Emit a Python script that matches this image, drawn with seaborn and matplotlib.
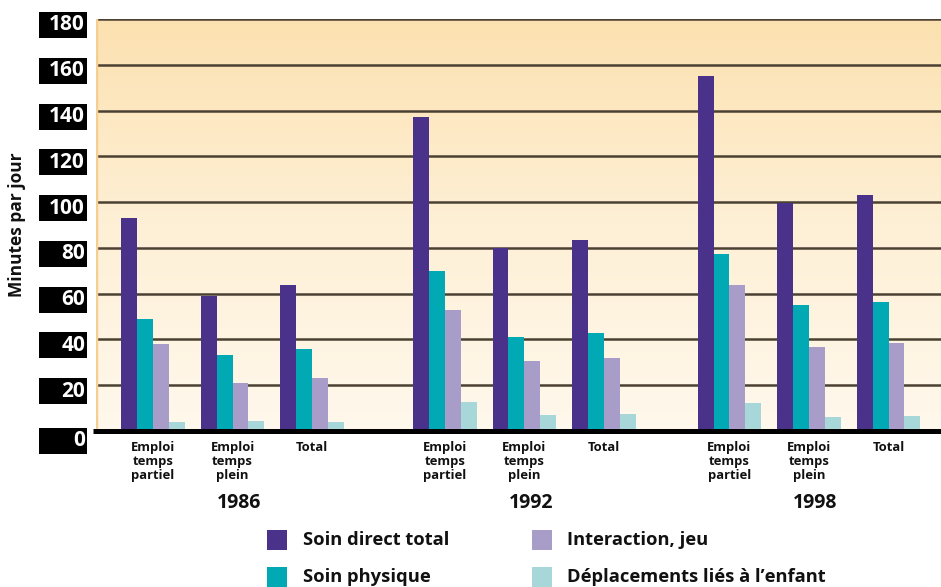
import numpy as np
import pandas as pd
import matplotlib
matplotlib.use("Agg")
import matplotlib.pyplot as plt
import seaborn as sns
from matplotlib.colors import LinearSegmentedColormap
from matplotlib.patches import Rectangle
import matplotlib.transforms as mtransforms

# ---------------- data ----------------
years = ["1986", "1992", "1998"]
categories = ["Emploi\ntemps\npartiel", "Emploi\ntemps\nplein", "Total"]
series = ["Soin direct total", "Soin physique", "Interaction, jeu",
          "Déplacements liés à l’enfant"]

soin_direct = [93, 59, 64, 137, 80, 83.5, 155, 99.5, 103]
soin_physique = [49, 33, 36, 70, 41, 43, 77.5, 55, 56.5]
interaction = [38, 21, 23, 53, 30.5, 32, 64, 36.5, 38.3]
deplacements = [4, 4.5, 4, 12.5, 7, 7.4, 12.2, 6, 6.5]

yticks = [0, 20, 40, 60, 80, 100, 120, 140, 160, 180]
y_label = "Minutes par jour"

# ---------------- style / layout ----------------
colors = ["#4a318a", "#00a9b4", "#a89cc9", "#a8d7da"]
group_start = [0.0, 3.67, 7.25]   # layout offsets of each year block

W, H = 941, 587
plt.rcParams["font.family"] = ["Open Sans", "DejaVu Sans"]

values_by_series = [soin_direct, soin_physique, interaction, deplacements]
rows = []
for s, vals in zip(series, values_by_series):
    k = 0
    for yi, yr in enumerate(years):
        for ci, cat in enumerate(categories):
            rows.append({"pos": group_start[yi] + ci, "series": s,
                         "value": vals[k], "year": yr, "cat": cat})
            k += 1
df = pd.DataFrame(rows)

fig = plt.figure(figsize=(W / 100, H / 100), dpi=100)
ax_left, ax_right = 96 / W, 1.0
ax_top, ax_bot = 1 - 19 / H, 1 - 431 / H
ax = fig.add_axes([ax_left, ax_bot, ax_right - ax_left, ax_top - ax_bot])

# gradient background
cmap = LinearSegmentedColormap.from_list("bg", ["#fff8ec", "#fef0d6", "#fce1b0"])
grad = np.linspace(0, 1, 256).reshape(-1, 1)
ax.imshow(grad, cmap=cmap, aspect="auto", extent=[0, 1, 0, 1],
          transform=ax.transAxes, origin="lower", zorder=0)

sns.barplot(data=df, x="pos", y="value", hue="series", hue_order=series,
            palette=colors, native_scale=True, width=0.8, dodge=True,
            saturation=1, errorbar=None, legend=False, ax=ax, zorder=3,
            linewidth=0)

xmin, xmax = -0.717, 9.91
ax.set_xlim(xmin, xmax)
ax.set_ylim(0, 180)

# grid lines
ax.hlines(yticks[1:], xmin, xmax, colors="#4b4132", linewidth=1.8, zorder=1)
# left edge tint
ax.axvline(xmin, color="#f5cf92", linewidth=2.5, zorder=1)
# baseline
ax.plot([xmin - 3 / 79.5, xmax], [0, 0], color="black", linewidth=3.6,
        solid_capstyle="butt", clip_on=False, zorder=6)

for sp in ax.spines.values():
    sp.set_visible(False)

# x tick labels
positions = [group_start[yi] + ci for yi in range(len(years)) for ci in range(len(categories))]
ax.set_xticks(positions)
ax.set_xticklabels(categories * len(years), fontsize=9.4, fontweight="bold",
                   linespacing=1.12, va="top", color="#111111")
ax.tick_params(axis="x", length=0, pad=7)
ax.set_yticks([])
ax.set_xlabel("")
ax.set_ylabel("")

# year labels
trans_xf = mtransforms.blended_transform_factory(ax.transData, fig.transFigure)
for yi, yr in enumerate(years):
    ax.text(group_start[yi] + 1.08, 1 - 503 / H, yr, transform=trans_xf,
            ha="center", va="center", fontsize=14, fontweight="bold",
            color="#111111")

# y tick boxes
trans_fy = mtransforms.blended_transform_factory(fig.transFigure, ax.transData)
ppu = (431 - 19) / 180.0
box_h = 26 / ppu
for v in yticks:
    c = v - 2.6 if v > 0 else -4.3
    fig.add_artist(Rectangle((39 / W, c - box_h / 2), 48 / W, box_h,
                             transform=trans_fy, facecolor="black",
                             edgecolor="none", clip_on=False))
    fig.text(85 / W, c, str(v), transform=trans_fy, ha="right",
             va="center", color="white", fontsize=15, fontweight="bold")

# y axis label
fig.text(17 / W, 1 - 225 / H, y_label, rotation=90, ha="center", va="center",
         fontsize=12.5, fontweight="bold", color="#111111")

# legend
leg_cols = [(267, 303), (532, 567)]
leg_rows = [540, 577]
for i, (s, c) in enumerate(zip(series, colors)):
    col, row = i // 2, i % 2
    sx, tx = leg_cols[col]
    cy = leg_rows[row]
    fig.add_artist(Rectangle((sx / W, 1 - (cy + 10) / H), 20 / W, 20 / H,
                             transform=fig.transFigure, facecolor=c,
                             edgecolor="none"))
    fig.text(tx / W, 1 - cy / H, s, ha="left", va="center", fontsize=13.2,
             fontweight="bold", color="#111111")

fig.savefig("out.png", dpi=100)
